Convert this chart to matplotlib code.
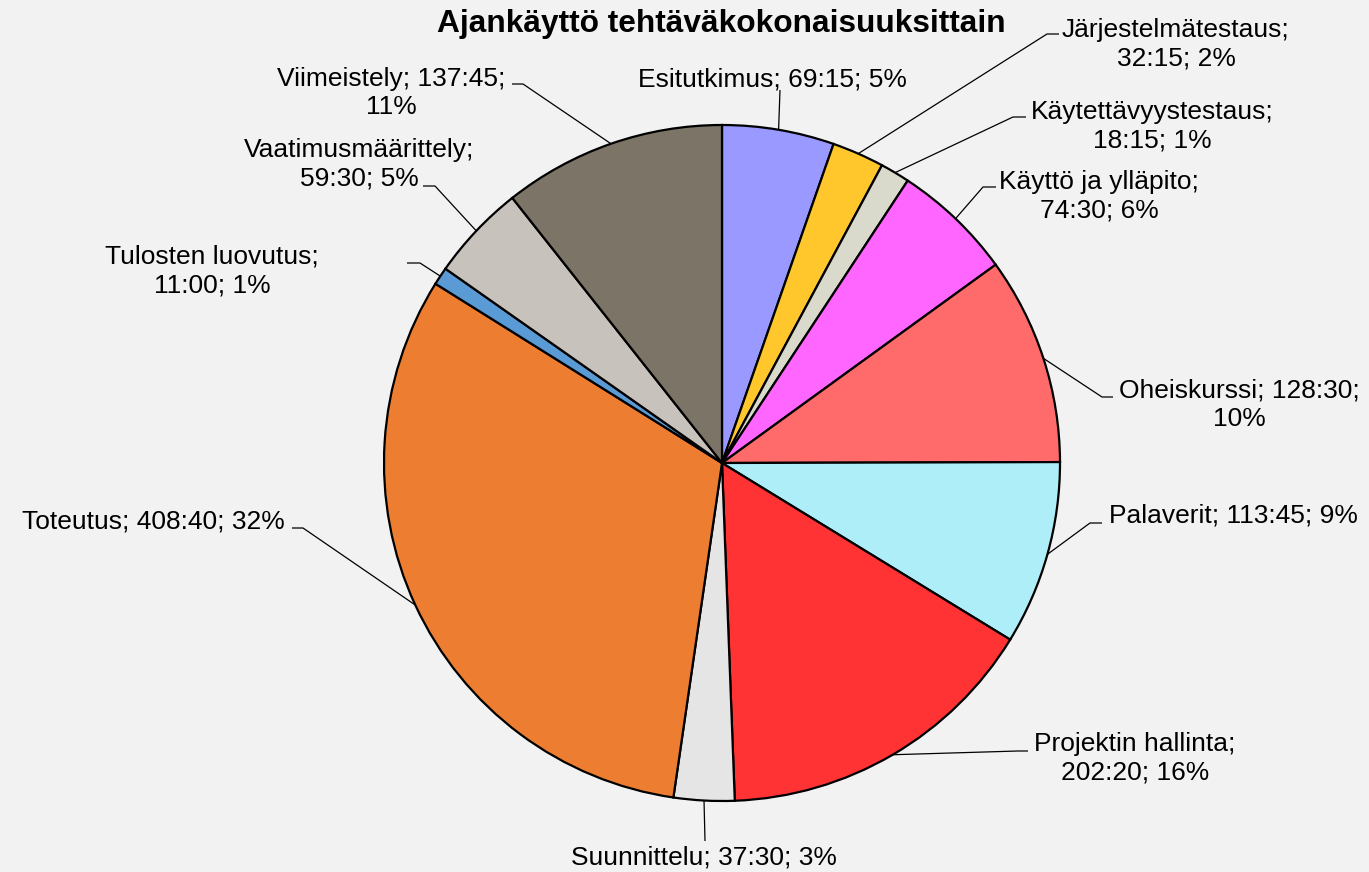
import numpy as np
import matplotlib.pyplot as plt

# data: task groups, clockwise from 12 o'clock, time as h:mm
tasks = ["Esitutkimus", "Järjestelmätestaus", "Käytettävyystestaus",
         "Käyttö ja ylläpito", "Oheiskurssi", "Palaverit", "Projektin hallinta",
         "Suunnittelu", "Toteutus", "Tulosten luovutus", "Vaatimusmäärittely",
         "Viimeistely"]
times = ["69:15", "32:15", "18:15", "74:30", "128:30", "113:45", "202:20",
         "37:30", "408:40", "11:00", "59:30", "137:45"]
colors = ["#9999ff", "#ffc72c", "#d9d9cc", "#ff66ff", "#ff6b6b", "#aeeef9",
          "#ff3333", "#e5e5e5", "#ed7d31", "#5b9bd5", "#c7c2bb", "#7c7466"]

# label layout (pixel coords, y down): text centre, leader elbow, horizontal tail
label_break = [0, 1, 1, 1, 2, 0, 1, 0, 0, 1, 1, 2]   # 0 one line, 1 after name, 2 before %
label_xy = [(772, 79), (1176, 44), (1152, 126), (1099, 196), (1239, 405),
            (1233, 515), (1135, 758), (704, 858), (153, 521), (212, 271),
            (359, 164), (391, 93)]
elbow_xy = [(780, 90), (1047, 34), (1013, 117), (983, 187), (1102, 397),
            (1090, 523), (1018, 751), (705, 841), (303, 528), (420, 263),
            (435, 186), (523, 84)]
tail_dx = [0, 12, 13, 13, 11, 12, 10, 0, -11, -13, -12, -11]

W, H = 1369, 872
CENTER = (722, H - 463)
RADIUS = 338


def hours(t):
    h, m = t.split(":")
    return int(h) + int(m) / 60.0


def fy(y):
    """pixel row (top-down) -> data y (bottom-up)"""
    return H - y


values = np.array([hours(t) for t in times])
pct = np.round(100 * values / values.sum()).astype(int)

plt.rcParams["font.family"] = ["Liberation Sans", "DejaVu Sans"]
fig = plt.figure(figsize=(W / 100, H / 100), dpi=100, facecolor="#f2f2f2")
ax = fig.add_axes([0, 0, 1, 1])
ax.set_facecolor("#f2f2f2")

wedges, _ = ax.pie(values, colors=colors, startangle=90, counterclock=False,
                   center=CENTER, radius=RADIUS,
                   wedgeprops=dict(edgecolor="black", linewidth=1.6))

for i, w in enumerate(wedges):
    mid = np.deg2rad(0.5 * (w.theta1 + w.theta2))
    sx = CENTER[0] + RADIUS * np.cos(mid)
    sy = CENTER[1] + RADIUS * np.sin(mid)
    ex, ey = elbow_xy[i]
    xs = [sx, ex, ex + tail_dx[i]]
    ys = [sy, fy(ey), fy(ey)]
    ax.plot(xs, ys, color="black", lw=0.9, solid_capstyle="butt")

    name, t, p = tasks[i], times[i], pct[i]
    if label_break[i] == 0:
        txt = f"{name}; {t}; {p}%"
    elif label_break[i] == 1:
        txt = f"{name};\n{t}; {p}%"
    else:
        txt = f"{name}; {t};\n{p}%"
    lx, ly = label_xy[i]
    ax.text(lx, fy(ly), txt, ha="center", va="center", multialignment="center",
            fontsize=19, linespacing=1.25, color="black")

ax.text(721, fy(24), "Ajankäyttö tehtäväkokonaisuuksittain", ha="center",
        va="center", fontsize=22.8, fontweight="bold")

ax.set_xlim(0, W)
ax.set_ylim(0, H)
ax.set_aspect("equal")
ax.axis("off")

fig.savefig("out.png", dpi=100, facecolor=fig.get_facecolor())
